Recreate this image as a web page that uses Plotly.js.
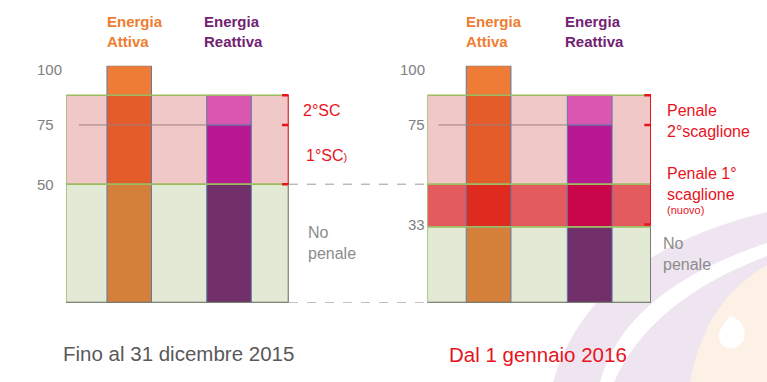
<!DOCTYPE html>
<html>
<head>
<meta charset="utf-8">
<script src="https://cdn.plot.ly/plotly-3.0.1.min.js"></script>
<style>html,body{margin:0;padding:0;background:#fff;}#chart{width:767px;height:382px;}</style>
</head>
<body>
<div id="chart"></div>
<script>
// ---------- DATA ----------
const barNames = ["Energia<br>Attiva", "Energia<br>Reattiva"];
const leftBarPos = [1.42, 3.66];
const rightBarPos = [1.37, 3.63];
// segment breakpoints for each bar (values on 0-100 scale)
const leftAttivaBreaks   = [0, 50, 87.5, 100];
const leftReattivaBreaks = [0, 50, 75, 87.5];
const rightAttivaBreaks  = [0, 32, 50, 87.5, 100];
const rightReattivaBreaks= [0, 32, 50, 75, 87.5];
// bands
const leftBands  = [0, 50, 87.5];        // no penale | penale
const rightBands = [0, 32, 50, 87.5];    // no penale | penale 1° (nuovo) | penale 2°
const refLine = 75;
// tick labels
const leftTicks  = [100, 75, 50];
const rightTicks = [100, 75, 33];
// bracket data
const leftRedBracket   = [50, 87.5];
const leftRedMarks     = [87.5, 75, 50];
const leftLabelMarks   = [81, 62];
const leftGrayBracket  = [0, 50];
const leftGrayMark     = 25;
const rightRedBracket  = [33, 87.5];
const rightRedMarks    = [87.5, 75, 33];
const rightLabelMarks  = [80.6, 54.3];
const rightGrayBracket = [0, 32];
const rightGrayMark    = 16;
const leftTitle  = "Fino al 31 dicembre 2015";
const rightTitle = "Dal 1 gennaio 2016";

// ---------- STYLE ----------
const attivaColorsL   = ["#D4803A", "#E35C29", "#EE7B36"];
const reattivaColorsL = ["#71306A", "#B81892", "#DB56B1"];
const attivaColorsR   = ["#D4803A", "#DE2A1F", "#E35C29", "#EE7B36"];
const reattivaColorsR = ["#71306A", "#C9064A", "#B81892", "#DB56B1"];
const bandColorsL = ["#E2EAD5", "#F0C8C8"];
const bandColorsR = ["#E2EAD5", "#E35B5E", "#F0C8C8"];
const RED = "#E8131D", GRAY = "#808080";
const W = 767, H = 382;
const px = v => v / W;
const py = v => 1 - v / H;

const traces = [];
function addBar(xpos, breaks, colors, xa) {
  for (let i = 0; i < breaks.length - 1; i++) {
    traces.push({
      type: "bar", x: [xpos], base: [breaks[i]], y: [breaks[i + 1] - breaks[i]],
      width: [1], xaxis: xa, yaxis: "y",
      marker: { color: colors[i], line: { color: "#5E7AA6", width: 1 } },
      hoverinfo: "skip", showlegend: false
    });
  }
}
addBar(leftBarPos[0], leftAttivaBreaks, attivaColorsL, "x");
addBar(leftBarPos[1], leftReattivaBreaks, reattivaColorsL, "x");
addBar(rightBarPos[0], rightAttivaBreaks, attivaColorsR, "x2");
addBar(rightBarPos[1], rightReattivaBreaks, reattivaColorsR, "x2");

const shapes = [];
// watermark (decorative, bottom right)
function pathPx(pts) { // pts: array of commands with px coords
  return pts.map(p => typeof p === "string" ? p : (px(p[0]).toFixed(4) + "," + py(p[1]).toFixed(4))).join(" ");
}
shapes.push({ type: "path", xref: "paper", yref: "paper", layer: "below", line: { width: 0 },
  fillcolor: "#EFE5F1",
  path: pathPx(["M", [553, 382], "Q", [590, 255], [767, 212], "L", [767, 382], "Z"]) });
shapes.push({ type: "path", xref: "paper", yref: "paper", layer: "below", line: { width: 0 },
  fillcolor: "#FDF1E6",
  path: pathPx(["M", [690, 382], "Q", [705, 300], [767, 265], "L", [767, 382], "Z"]) });
shapes.push({ type: "path", xref: "paper", yref: "paper", layer: "below", line: { width: 0 },
  fillcolor: "#FFFFFF",
  path: pathPx(["M", [600, 382], "Q", [625, 290], [767, 243], "L", [767, 256], "Q", [650, 300], [614, 382], "Z"]) });
shapes.push({ type: "path", xref: "paper", yref: "paper", layer: "below", line: { width: 0 },
  fillcolor: "#FFFFFF",
  path: pathPx(["M", [730, 316], "Q", [748, 322], [744, 340], "Q", [737, 352], [723, 346], "Q", [712, 335], [730, 316], "Z"]) });

function bands(levels, colors, xa) {
  for (let i = 0; i < levels.length - 1; i++) {
    shapes.push({ type: "rect", xref: xa, yref: "y", x0: 0, x1: 5, y0: levels[i], y1: levels[i + 1],
      fillcolor: colors[i], line: { width: 0 }, layer: "below" });
  }
  for (let i = 0; i < levels.length - 1; i++) {
    shapes.push({ type: "rect", xref: xa, yref: "y", x0: 0, x1: 5, y0: levels[i], y1: levels[i + 1],
      fillcolor: "rgba(0,0,0,0)", line: { color: "#9DBB61", width: 1.5 }, layer: "above" });
  }
  shapes.push({ type: "line", xref: xa, yref: "y", x0: 0, x1: 5, y0: 0, y1: 0,
    line: { color: "#6F6F6F", width: 2 }, layer: "above" });
}
bands(leftBands, bandColorsL, "x");
bands(rightBands, bandColorsR, "x2");

// 75 reference lines
shapes.push({ type: "line", xref: "x", yref: "y", x0: 0.29, x1: 3.17, y0: refLine, y1: refLine,
  line: { color: "#9E8080", width: 1 }, layer: "above" });
shapes.push({ type: "line", xref: "x2", yref: "y", x0: 0.25, x1: 3.14, y0: refLine, y1: refLine,
  line: { color: "#9E8080", width: 1 }, layer: "above" });

// dashed connectors between panels
[leftBands[1], 0].forEach(v => {
  shapes.push({ type: "line", xref: "paper", yref: "y", x0: px(289), x1: px(427), y0: v, y1: v,
    line: { color: "#9A9A9A", width: 1, dash: "dash" }, layer: "above" });
});

function bracket(xa, span, color, leftMarks, rightMarks) {
  shapes.push({ type: "line", xref: xa, yref: "y", x0: 5, x1: 5, y0: span[0], y1: span[1],
    line: { color: color, width: 2 }, layer: "above" });
  leftMarks.forEach(v => shapes.push({ type: "line", xref: xa, yref: "y", x0: 4.85, x1: 5, y0: v, y1: v,
    line: { color: color, width: 2.5 }, layer: "above" }));
  rightMarks.forEach(v => shapes.push({ type: "line", xref: xa, yref: "y", x0: 5, x1: 5.16, y0: v, y1: v,
    line: { color: color, width: 2 }, layer: "above" }));
}
bracket("x", leftRedBracket, RED, leftRedMarks, leftLabelMarks);
bracket("x", leftGrayBracket, "#7A7A7A", [], [leftGrayMark]);
bracket("x2", rightRedBracket, RED, rightRedMarks, rightLabelMarks);
bracket("x2", rightGrayBracket, "#7A7A7A", [], [rightGrayMark]);

const F = "Liberation Sans, Arial, sans-serif";
const ann = [];
// headers
[["x", leftBarPos], ["x2", rightBarPos]].forEach(([xa, pos]) => {
  ann.push({ xref: xa, yref: "paper", x: pos[0] - 0.55, y: py(31.5), xanchor: "left", yanchor: "middle", align: "left",
    text: "<b>" + barNames[0] + "</b>", showarrow: false, font: { family: F, size: 15, color: "#EE7D31" } });
  ann.push({ xref: xa, yref: "paper", x: pos[1] - 0.6, y: py(31.5), xanchor: "left", yanchor: "middle", align: "left",
    text: "<b>" + barNames[1] + "</b>", showarrow: false, font: { family: F, size: 15, color: "#722272" } });
});
// tick labels
leftTicks.forEach(v => ann.push({ xref: "paper", yref: "y", x: px(35), y: v, yshift: v === 100 ? -4 : 0,
  xanchor: "left", yanchor: "middle", text: String(v), showarrow: false, font: { family: F, size: 15, color: GRAY } }));
rightTicks.forEach(v => ann.push({ xref: "paper", yref: "y", x: px(427), y: v, yshift: v === 100 ? -4 : 0,
  xanchor: "right", yanchor: "middle", text: String(v), showarrow: false, font: { family: F, size: 15, color: GRAY } }));
// bracket labels
function lab(x, y, text, color, size, yref) {
  ann.push({ xref: "paper", yref: yref || "y", x: px(x), y: y, xanchor: "left", yanchor: "middle", align: "left",
    text: text, showarrow: false, font: { family: F, size: size, color: color } });
}
lab(301, leftLabelMarks[0], "2°SC", RED, 16);
lab(304, leftLabelMarks[1], "1°SC<span style='font-size:11px'>)</span>", RED, 16);
lab(306, leftGrayMark, "No<br>penale", "#8C8C8C", 16);
lab(665, py(121), "Penale<br>2°scaglione", RED, 16, "paper");
lab(665, py(183.5), "Penale 1°<br>scaglione", RED, 16, "paper");
lab(665, py(209.5), "(nuovo)", RED, 11, "paper");
lab(661, py(254), "No<br>penale", "#8C8C8C", 16, "paper");
// bottom titles
ann.push({ xref: "paper", yref: "paper", x: px(60.5), y: py(353), xanchor: "left", yanchor: "middle",
  text: leftTitle, showarrow: false, font: { family: F, size: 20.5, color: "#595959" } });
ann.push({ xref: "paper", yref: "paper", x: px(446.5), y: py(354), xanchor: "left", yanchor: "middle",
  text: rightTitle, showarrow: false, font: { family: F, size: 20.5, color: RED } });

const axX = { visible: false, range: [0, 5], fixedrange: true, showgrid: false, zeroline: false };
const layout = {
  width: W, height: H, margin: { l: 0, r: 0, t: 0, b: 0 },
  paper_bgcolor: "#FFFFFF", plot_bgcolor: "rgba(0,0,0,0)",
  barmode: "overlay", showlegend: false,
  xaxis: Object.assign({}, axX, { domain: [px(66), px(288.7)], anchor: "y" }),
  xaxis2: Object.assign({}, axX, { domain: [px(427.3), px(651)], anchor: "y" }),
  yaxis: { visible: false, range: [0, 100], domain: [py(302.7), py(65.7)], fixedrange: true, showgrid: false, zeroline: false },
  shapes: shapes, annotations: ann
};
Plotly.newPlot("chart", traces, layout, { staticPlot: true, displayModeBar: false });
</script>
</body>
</html>
